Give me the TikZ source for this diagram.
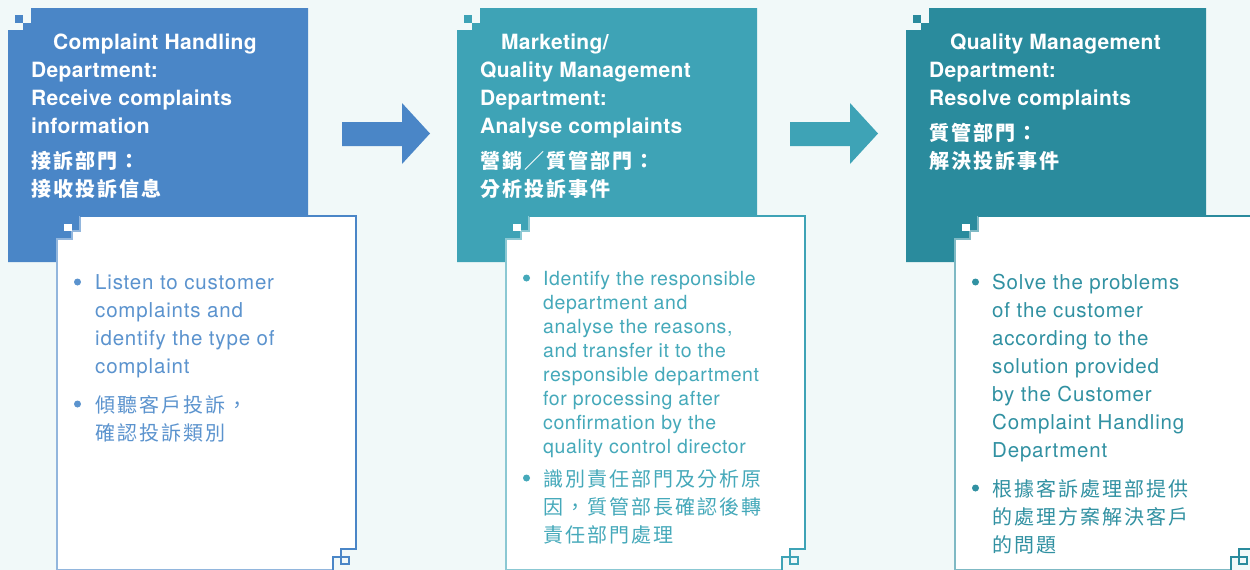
\documentclass[tikz,border=0pt]{standalone}
\usepackage{fontspec}
\newfontfamily\titlefam{TeX Gyre Heros}[LetterSpace=1.5]
\newfontfamily\bodyfam{TeX Gyre Heros}[LetterSpace=4]
\newfontfamily\bodyfams{TeX Gyre Heros}[LetterSpace=3]
\newfontfamily\cjkfam{Noto Sans CJK TC}[LetterSpace=10]
\definecolor{bgc}{HTML}{F1F9F9}
\definecolor{cA}{HTML}{4A86C7}
\definecolor{cB}{HTML}{3EA3B6}
\definecolor{cC}{HTML}{2A8B9D}
\definecolor{tA}{HTML}{5B93CE}
\definecolor{tB}{HTML}{45A9BA}
\definecolor{tC}{HTML}{3191A2}
\newcommand\rl{\rule{0pt}{20pt}}
\newcommand\panelshapes[1]{%
  \fill[#1] (8,30)--(23,30)--(23,23)--(31,23)--(31,8)--(308,8)--(308,262)--(8,262)--cycle;
  \fill[#1] (15,15) rectangle (23,23);
  \fill[white] (57,569.5)--(57,239)--(72,239)--(72,231)--(80,231)--(80,216)--(356,216)--(356,549)--(341,549)--(341,557)--(333,557)--(333,569.5)--cycle;
  \draw[#1!60, line width=1.2pt] (333,569.5)--(57,569.5)--(57,239)--(72,239)--(72,231)--(80,231)--(80,216);
  \draw[#1, line width=1.6pt] (80,216)--(356,216)--(356,549)--(341,549)--(341,564)--(349,564)--(349,557)--(333,557)--(333,570);
  \fill[white] (64,224) rectangle (72,231);
}
\tikzset{
  ttl/.style={anchor=north west, inner sep=0pt, align=left, text=white,
    font=\titlefam\bfseries\fontsize{21}{28}\selectfont},
  ttlc/.style={anchor=north west, inner sep=0pt, align=left, text=white,
    font=\cjkfam\bfseries\fontsize{20}{28}\selectfont},
  bdy/.style={anchor=north west, inner sep=0pt, align=left,
    font=\bodyfam\fontsize{20.5}{28}\selectfont},
  bdys/.style={anchor=north west, inner sep=0pt, align=left,
    font=\bodyfams\fontsize{19.5}{24}\selectfont},
  bdyc/.style={anchor=north west, inner sep=0pt, align=left,
    font=\cjkfam\fontsize{20}{28}\selectfont},
  dot/.style={circle, inner sep=0pt, minimum size=7pt, fill=#1},
  blockarrow/.style={fill=#1},
}
\begin{document}
\begin{tikzpicture}[x=1pt,y=-1pt]
\useasboundingbox (0,0) rectangle (1250,570);
\fill[bgc] (0,0) rectangle (1250,570);

% panels
\begin{scope}\panelshapes{cA}\end{scope}
\begin{scope}[xshift=449pt]\panelshapes{cB}\end{scope}
\begin{scope}[xshift=898pt]\panelshapes{cC}\end{scope}

% arrows between panels
\coordinate (a1s) at (342,134);
\coordinate (a2s) at (790,134);
\fill[blockarrow=cA] (342,122)--(402,122)--(402,103)--(430,133.5)--(402,164)--(402,146)--(342,146)--cycle;
\fill[blockarrow=cB] (790,122)--(850,122)--(850,103)--(878,133.5)--(850,164)--(850,146)--(790,146)--cycle;

% panel 1
\node[ttl] (t1e) at (31,29) {\rl\hspace*{22pt}Complaint Handling\\Department:\\Receive complaints\\information};
\node[ttlc] (t1c) at (31,148) {\rl 接訴部門：\\接收投訴信息};
\node[dot=tA] (d1a) at (77.5,282) {};
\node[dot=tA] (d1b) at (77.5,404) {};
\node[bdy, text=tA] (b1e) at (95,269) {\rl Listen to customer\\complaints and\\identify the type of\\complaint};
\node[bdyc, text=tA] (b1c) at (95,392) {\rl 傾聽客戶投訴，\\確認投訴類別};

% panel 2
\node[ttl] (t2e) at (480,29) {\rl\hspace*{21pt}Marketing/\\Quality Management\\Department:\\Analyse complaints};
\node[ttlc] (t2c) at (480,148) {\rl 營銷／質管部門：\\分析投訴事件};
\node[dot=tB] (d2a) at (526.5,278) {};
\node[dot=tB] (d2b) at (526.5,478) {};
\node[bdys, text=tB] (b2e) at (543,265) {\rl Identify the responsible\\department and\\analyse the reasons,\\and transfer it to the\\responsible department\\for processing after\\confirmation by the\\quality control director};
\node[bdyc, text=tB] (b2c) at (543,466) {\rl 識別責任部門及分析原\\因，質管部長確認後轉\\責任部門處理};

% panel 3
\node[ttl] (t3e) at (929,29) {\rl\hspace*{21pt}Quality Management\\Department:\\Resolve complaints};
\node[ttlc] (t3c) at (929,120) {\rl 質管部門：\\解決投訴事件};
\node[dot=tC] (d3a) at (975.5,282) {};
\node[dot=tC] (d3b) at (975.5,488) {};
\node[bdy, text=tC] (b3e) at (992,269) {\rl Solve the problems\\of the customer\\according to the\\solution provided\\by the Customer\\Complaint Handling\\Department};
\node[bdyc, text=tC] (b3c) at (992,476) {\rl 根據客訴處理部提供\\的處理方案解決客戶\\的問題};
\end{tikzpicture}
\end{document}
